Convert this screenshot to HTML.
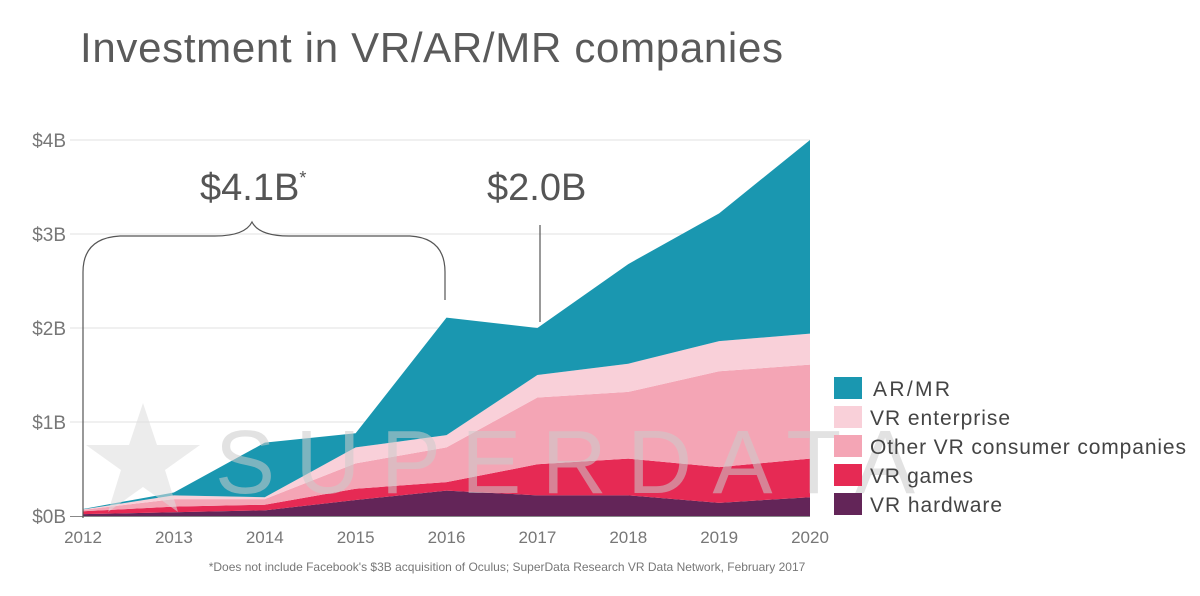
<!DOCTYPE html>
<html><head><meta charset="utf-8"><style>
body{margin:0;background:#fff;}
svg text{font-family:"Liberation Sans",sans-serif;}
</style></head><body>
<svg width="1200" height="591" viewBox="0 0 1200 591">
<text x="80" y="62" font-size="42" fill="#5a5a5a" textLength="703" lengthAdjust="spacing">Investment in VR/AR/MR companies</text>
<g id="grid"></g>
<g id="areas"></g>
<g id="wm" opacity="0.55">
<polygon points="143,403 157,445 200,445 165,470 178,512 143,487 108,512 121,470 86,445 129,445" fill="#ddd"/>
<text x="215" y="493" font-size="90" fill="#ccc" textLength="700" lengthAdjust="spacing">SUPERDATA</text>
</g>
<g id="axes"></g>
<path d="M83,518 L83,272 Q83,238 120,236 L215,236 Q245,236 252,222 Q259,236 289,236 L410,236 Q445,238 445,272 L445,300" fill="none" stroke="#555" stroke-width="1.2"/>
<line x1="540" y1="225" x2="540" y2="322" stroke="#555" stroke-width="1.2"/>
<text x="200" y="200" font-size="38" fill="#555">$4.1B<tspan font-size="18" dy="-16">*</tspan></text>
<text x="487" y="200" font-size="38" fill="#555">$2.0B</text>
<g id="legend"></g>
<text x="507" y="571" font-size="12" fill="#777" text-anchor="middle">*Does not include Facebook's $3B acquisition of Oculus; SuperData Research VR Data Network, February 2017</text>
</svg>
<script>
const years=["2012","2013","2014","2015","2016","2017","2018","2019","2020"];
const hardware=[0.02,0.04,0.06,0.17,0.27,0.22,0.22,0.14,0.20];
const games=[0.03,0.06,0.06,0.12,0.09,0.33,0.39,0.38,0.41];
const otherConsumer=[0.015,0.08,0.06,0.27,0.37,0.71,0.71,1.02,1.00];
const enterprise=[0.005,0.04,0.02,0.17,0.13,0.24,0.30,0.32,0.33];
const armr=[0.005,0.03,0.58,0.15,1.25,0.50,1.06,1.36,2.06];
const yTicks=[0,1,2,3,4];
const yTickLabels=["$0B","$1B","$2B","$3B","$4B"];
const seriesNames=["AR/MR","VR enterprise","Other VR consumer companies","VR games","VR hardware"];
const legendWidths=[77,140,316,103,132];
const NS="http://www.w3.org/2000/svg";
const x=i=>83+i*(810-83)/(years.length-1);
const y=v=>516-v*94;
function mk(t,a,p){const e=document.createElementNS(NS,t);for(const k in a)e.setAttribute(k,a[k]);p.appendChild(e);return e;}
const grid=document.getElementById('grid'),axes=document.getElementById('axes'),areas=document.getElementById('areas'),legend=document.getElementById('legend');
yTicks.forEach((t,i)=>{
 if(t>0){const l=mk('line',{x1:70,x2:810,y1:y(t),y2:y(t),stroke:'#e2e2e2','stroke-width':1},grid);
 
 }
 const tx=mk('text',{x:66,y:y(t)+7,'font-size':19,fill:'#777','text-anchor':'end'},axes);tx.textContent=yTickLabels[i];
 
 
});
years.forEach((yr,i)=>{
 const tx=mk('text',{x:x(i),y:543,'font-size':17,fill:'#777','text-anchor':'middle'},axes);tx.textContent=yr;
 
 
});
const bl=mk('line',{x1:70,x2:810,y1:516.5,y2:516.5,stroke:'#888','stroke-width':1},axes);


const stack=[hardware,games,otherConsumer,enterprise,armr];
const colors=["#632558","#e62a54","#f4a5b5","#f9d0d9","#1a97b0"];
const names=["area-vr-hardware","area-vr-games","area-other-vr-consumer","area-vr-enterprise","area-ar-mr"];
let base=years.map(()=>0);
stack.forEach((s,k)=>{
 const top=base.map((b,i)=>b+s[i]);
 let d='M'+top.map((v,i)=>x(i)+','+y(v)).join(' L');
 for(let i=years.length-1;i>=0;i--)d+=' L'+x(i)+','+y(base[i]);
 const p=mk('path',{d:d+'Z',fill:colors[k]},areas);
 
 
 base=top;
});
const lc=["#1a97b0","#f9d0d9","#f4a5b5","#e62a54","#632558"];
seriesNames.forEach((n,i)=>{
 const g=mk('g',{},legend);
 
 
 mk('rect',{x:834,y:377+i*29,width:28,height:22,fill:lc[i]},g);
 const t=mk('text',{x:i==0?873:870,y:396+i*29,'font-size':21,fill:'#444',textLength:legendWidths[i],lengthAdjust:'spacing'},g);t.textContent=n;
});
</script>
</body></html>
